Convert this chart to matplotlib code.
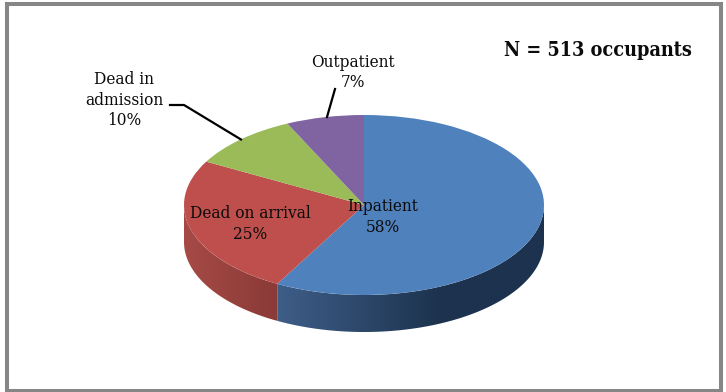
import numpy as np
import matplotlib
matplotlib.use("Agg")
import matplotlib.pyplot as plt
from matplotlib.patches import Rectangle, Polygon

categories = ["Inpatient", "Dead on arrival", "Dead in\nadmission", "Outpatient"]
shares = [58, 25, 10, 7]
colors = ["#4F81BD", "#BE4F4C", "#9BBB59", "#8064A2"]
wall_from = {0: (62, 94, 136), 1: (166, 74, 70)}
wall_to = {0: (28, 50, 78), 1: (138, 58, 55)}
note = "N = 513 occupants"

W, H = 726, 392
CX, CY, RX, RY, DEPTH = 364, 205, 180, 90, 37

plt.rcParams["font.family"] = ["DejaVu Serif", "Liberation Serif"]
fig = plt.figure(figsize=(W / 100, H / 100), dpi=100, facecolor="white")

ax = fig.add_axes([0, 0, 1, 1])
ax.pie(shares, colors=colors, startangle=90, counterclock=False, radius=1,
       center=(0, 0), wedgeprops=dict(linewidth=0), frame=False)
xl = ((0 - CX) / RX, (W - CX) / RX)
yl = ((CY - H) / RY, (CY - 0) / RY)
ax.axis("off")

d = DEPTH / RY
fracs = np.array(shares) / sum(shares)
edges = 90 - 360 * np.concatenate([[0], np.cumsum(fracs)])
spans = {0: (max(edges[1], -180), 0, 0.62), 1: (-180, edges[1], 1.0)}
for i, (lo, hi, reach) in spans.items():
    angs = np.radians(np.linspace(hi, lo, 200))
    xs, ys = np.cos(angs), np.sin(angs)
    xmin, xmax = xs.min(), xs.max()
    t = np.clip(np.linspace(0, 1, 256) / reach, 0, 1)[None, :, None]
    img = (np.array(wall_from[i])[None, None, :] * (1 - t)
           + np.array(wall_to[i])[None, None, :] * t) / 255
    ymin, ymax = ys.min() - d, ys.max()
    im = ax.imshow(img, extent=(xmin, xmax, ymin, ymax), aspect="auto", zorder=0.5,
                   interpolation="bilinear")
    verts = np.r_[np.c_[xs, ys], np.c_[xs[::-1], ys[::-1] - d]]
    clip = Polygon(verts, closed=True, transform=ax.transData, fill=False, linewidth=0)
    ax.add_patch(clip)
    im.set_clip_path(clip)

ax.set_aspect("auto")
ax.set_xlim(*xl)
ax.set_ylim(*yl)

ov = fig.add_axes([0, 0, 1, 1], facecolor="none")
ov.set_xlim(0, W)
ov.set_ylim(H, 0)
ov.axis("off")
ov.add_patch(Rectangle((7, 3.5), 713.5, 387, fill=False, edgecolor="#868686", linewidth=2.9))

fs = 12.3
ink = "#0b0b0b"
kw = dict(ha="center", va="center", fontsize=fs, color=ink, linespacing=1.3, fontstretch="condensed")
ov.text(383, 217, f"{categories[0]}\n{shares[0]}%", **kw)
ov.text(250, 224, f"{categories[1]}\n{shares[1]}%", **kw)
ov.text(124, 100, f"{categories[2]}\n{shares[2]}%", **kw)
ov.text(353, 72.5, f"{categories[3]}\n{shares[3]}%", **kw)
ov.text(598, 50, note, ha="center", va="center", fontsize=14.2, fontweight="bold",
        color=ink, fontstretch="condensed")

ov.plot([170, 184, 241], [105, 105, 139.5], color="black", linewidth=1.6, solid_joinstyle="miter")
ov.plot([335, 327], [89, 117], color="black", linewidth=1.6)

fig.savefig("out.png", dpi=100, facecolor="white")
